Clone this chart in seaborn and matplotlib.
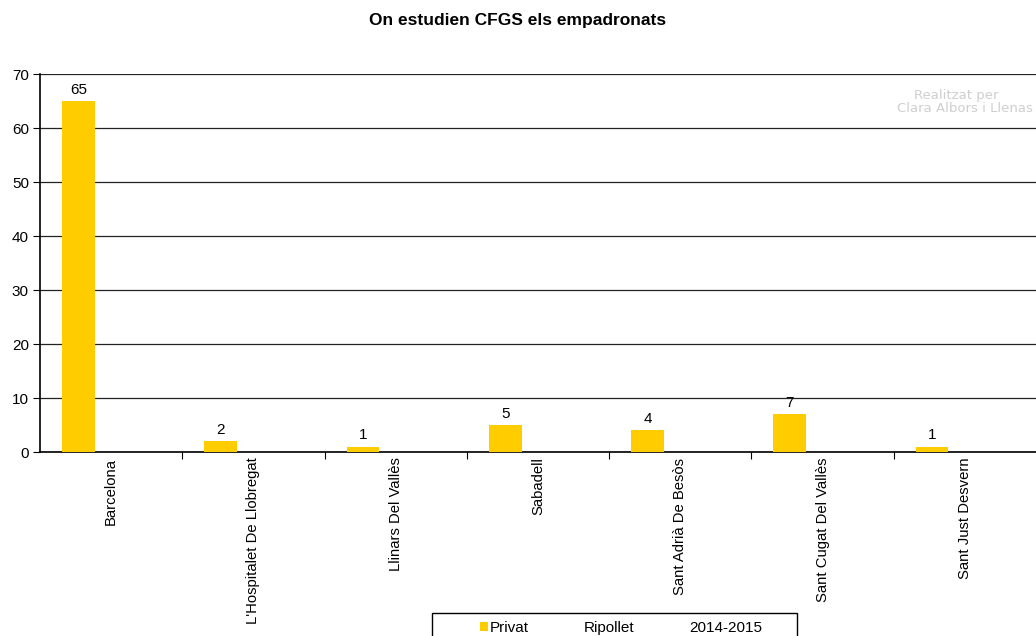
import matplotlib
matplotlib.use("Agg")
import matplotlib.pyplot as plt
import seaborn as sns
import pandas as pd
from matplotlib.patches import Patch, Rectangle
from matplotlib.ticker import FixedLocator

categories = ["Barcelona", "L'Hospitalet De Llobregat", "Llinars Del Vallès",
              "Sabadell", "Sant Adrià De Besòs", "Sant Cugat Del Vallès",
              "Sant Just Desvern"]
privat = [65, 2, 1, 5, 4, 7, 1]
legend_labels = ["Privat", "Ripollet", "2014-2015"]
yticks = [0, 10, 20, 30, 40, 50, 60, 70]

sns.set_theme(style="white")
plt.rcParams["font.family"] = ["Liberation Sans", "DejaVu Sans"]
plt.rcParams["text.color"] = "black"
plt.rcParams["xtick.color"] = "black"
plt.rcParams["ytick.color"] = "black"
plt.rcParams["axes.labelcolor"] = "black"

W, H = 1036, 636

rows = []
for c, v in zip(categories, privat):
    rows.append({"cat": c, "serie": legend_labels[0], "val": v})
    rows.append({"cat": c, "serie": "_s2", "val": 0})
    rows.append({"cat": c, "serie": "_s3", "val": 0})
df = pd.DataFrame(rows)

fig = plt.figure(figsize=(W / 100, H / 100), dpi=100)
ax = fig.add_axes([40 / W, 1 - 452 / H, 1 - 40 / W, (452 - 74) / H])

sns.barplot(data=df, x="cat", y="val", hue="serie", order=categories,
            hue_order=[legend_labels[0], "_s2", "_s3"],
            palette=["#FFCC00", "#FFCC00", "#FFCC00"], width=0.69,
            linewidth=0, saturation=1, errorbar=None, legend=False, ax=ax,
            zorder=3)

ax.set_xlim(-0.5, len(categories) - 0.5)
ax.set_ylim(0, 70)
ax.set_yticks(yticks)
ax.yaxis.grid(True, color="#222222", linewidth=0.9, zorder=0)
ax.set_axisbelow(True)
for s in ["top", "right"]:
    ax.spines[s].set_visible(False)
for s in ["left", "bottom"]:
    ax.spines[s].set_color("black")
    ax.spines[s].set_linewidth(1.2)

ax.set_xlabel("")
ax.set_ylabel("")
ax.set_xticks(range(len(categories)))
ax.set_xticklabels(categories, rotation=90, fontsize=10.7)
ax.tick_params(axis="x", which="major", length=0, pad=4)
ax.xaxis.set_minor_locator(FixedLocator([i + 0.5 for i in range(len(categories) - 1)]))
ax.tick_params(axis="x", which="minor", bottom=True, length=5, width=0.8, color="black")
ax.tick_params(axis="y", which="major", left=True, length=5, width=0.8,
               color="black", labelsize=11, pad=3)

# value labels
for cont in ax.containers[:1]:
    ax.bar_label(cont, labels=[str(v) for v in privat], padding=3, fontsize=11)

fig.suptitle("On estudien CFGS els empadronats", x=0.5, y=0.979,
             fontsize=12.5, fontweight="bold")

fig.text(1 - 38 / W, 1 - 95 / H, "Realitzat per", ha="right", va="center",
         fontsize=9.5, color="#cfcfcf", family=["DejaVu Sans"])
fig.text(1 - 3 / W, 1 - 109 / H, "Clara Albors i Llenas", ha="right", va="center",
         fontsize=9.5, color="#cfcfcf", family=["DejaVu Sans"])

# legend frame (runs off the bottom edge as in the reference)
fig.add_artist(Rectangle((432 / W, -0.05), (797 - 432) / W, 0.05 + (H - 613) / H,
                         transform=fig.transFigure, facecolor="white",
                         edgecolor="black", linewidth=1.0, clip_on=False))

handles = [Patch(facecolor="#FFCC00", edgecolor="none"),
           Patch(facecolor="none", edgecolor="none"),
           Patch(facecolor="none", edgecolor="none")]
leg = fig.legend(handles, legend_labels, loc="center left",
                 bbox_to_anchor=(480 / W, 1 - 628 / H), ncol=3, frameon=False,
                 fontsize=11, handlelength=0.5, handleheight=0.5,
                 handletextpad=0.15, columnspacing=2.95, borderpad=0.0,
                 borderaxespad=0.0)

fig.savefig("out.png", dpi=100)
